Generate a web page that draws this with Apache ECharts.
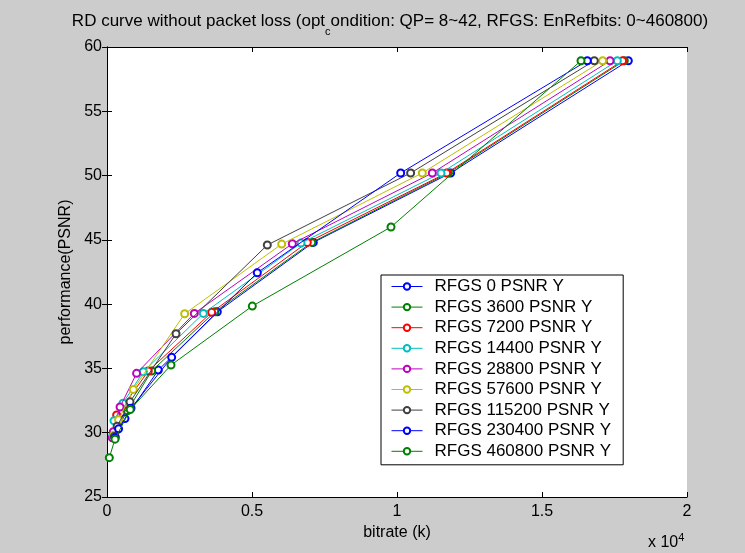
<!DOCTYPE html>
<html>
<head>
<meta charset="utf-8">
<script src="https://cdn.jsdelivr.net/npm/echarts@6/dist/echarts.min.js"></script>
<style>
html,body{margin:0;padding:0;background:#cccccc;}
#c{width:745px;height:553px;}
</style>
</head>
<body>
<div id="c"></div>
<script>
// Series names
const seriesNames = ['RFGS 0 PSNR Y','RFGS 3600 PSNR Y','RFGS 7200 PSNR Y','RFGS 14400 PSNR Y','RFGS 28800 PSNR Y','RFGS 57600 PSNR Y','RFGS 115200 PSNR Y','RFGS 230400 PSNR Y','RFGS 460800 PSNR Y'];
const seriesColors = ['#0000ff','#008000','#ff0000','#00bfbf','#bf00bf','#bfbf00','#404040','#0000ff','#008000'];
// [bitrate (k), PSNR]
const rfgs0      = [[17976,58.93],[11850,50.2],[7114,44.8],[3804,39.4],[1770,34.87],[620,31.1],[280,29.7]];
const rfgs3600   = [[17838,58.93],[11770,50.2],[7060,44.8],[3724,39.4],[1540,34.8],[700,31.7],[330,30.2],[230,29.6]];
const rfgs7200   = [[17780,58.93],[11712,50.2],[6907,44.8],[3609,39.36],[1425,34.8],[600,32.2],[333,31.38],[240,29.9]];
const rfgs14400  = [[17597,58.93],[11517,50.2],[6690,44.75],[3322,39.28],[1253,34.74],[550,32.3],[241,30.93],[200,29.8]];
const rfgs28800  = [[17345,58.93],[11218,50.2],[6390,44.7],[3011,39.28],[1020,34.62],[450,32.0],[218,30.08],[180,29.6]];
const rfgs57600  = [[17090,58.93],[10873,50.2],[6024,44.67],[2678,39.25],[908,33.37],[400,31.0],[230,29.8]];
const rfgs115200 = [[16803,58.93],[10470,50.2],[5528,44.6],[2380,37.7],[793,32.4],[350,30.5],[250,29.7]];
const rfgs230400 = [[16562,58.93],[10127,50.2],[5183,42.44],[2230,35.86],[828,31.9],[400,30.3],[280,29.6]];
const rfgs460800 = [[16345,58.93],[9793,46.0],[5011,39.85],[2207,35.26],[800,31.8],[276,29.5],[80,28.06]];
const allData = [rfgs0,rfgs3600,rfgs7200,rfgs14400,rfgs28800,rfgs57600,rfgs115200,rfgs230400,rfgs460800];
const xTickLabels = {0:'0',5000:'0.5',10000:'1',15000:'1.5',20000:'2'};

const FONT = 'Liberation Sans, Arial, sans-serif';
const chart = echarts.init(document.getElementById('c'));
const grid = {left:107, top:47, width:580, height:450};

const series = allData.map((d,i)=>({
  name: seriesNames[i],
  type: 'line',
  data: d,
  symbol: 'emptyCircle',
  symbolSize: 7,
  showSymbol: true,
  lineStyle: {width: 1, color: seriesColors[i]},
  itemStyle: {color: seriesColors[i], borderColor: seriesColors[i], borderWidth: 1},
  emphasis: {disabled: true},
  animation: false,
  z: 2 + i
}));

chart.setOption({
  backgroundColor: '#cccccc',
  animation: false,
  title: {
    text: 'RD curve without packet loss (opt{s|c}ondition: QP= 8~42, RFGS: EnRefbits: 0~460800)',
    left: 390, top: 6, textAlign: 'center', padding: 0,
    textStyle: {
      fontFamily: FONT, fontSize: 17, fontWeight: 'normal', color: '#000',
      rich: {s: {fontFamily: FONT, fontSize: 11, color: '#000', verticalAlign: 'bottom', padding: [20,0,0,0]}}
    }
  },
  grid: grid,
  legend: {
    orient: 'vertical',
    left: 381, top: 275,
    backgroundColor: '#ffffff',
    borderColor: '#000000', borderWidth: 1,
    padding: [3, 12, 5, 10],
    itemWidth: 31, itemHeight: 8, itemGap: 3.6,
    itemStyle: {borderWidth: 1},
    lineStyle: {width: 1},
    textStyle: {fontFamily: FONT, fontSize: 17, lineHeight: 16, color: '#000', padding: [0,0,0,7]},
    data: seriesNames
  },
  xAxis: [{
    type: 'value', min: 0, max: 20000, interval: 5000,
    name: 'bitrate (k)', nameLocation: 'middle', nameGap: 25,
    nameTextStyle: {fontFamily: FONT, fontSize: 16, color: '#000'},
    axisLine: {show: true, lineStyle: {color: '#000', width: 1}},
    axisTick: {show: true, inside: true, length: 5, lineStyle: {color: '#000'}},
    axisLabel: {fontFamily: FONT, fontSize: 16, color: '#000', margin: 7,
      formatter: v => xTickLabels[v] !== undefined ? xTickLabels[v] : ''},
    splitLine: {show: false}
  },{
    type: 'value', min: 0, max: 20000, interval: 5000, position: 'top',
    axisLine: {show: true, lineStyle: {color: '#000', width: 1}},
    axisTick: {show: true, inside: true, length: 5, lineStyle: {color: '#000'}},
    axisLabel: {show: false}, splitLine: {show: false}
  }],
  yAxis: [{
    type: 'value', min: 25, max: 60, interval: 5,
    name: 'performance(PSNR)', nameLocation: 'middle', nameGap: 32, nameRotate: 90,
    nameTextStyle: {fontFamily: FONT, fontSize: 16, color: '#000'},
    axisLine: {show: true, lineStyle: {color: '#000', width: 1}},
    axisTick: {show: true, inside: true, length: 5, lineStyle: {color: '#000'}},
    axisLabel: {fontFamily: FONT, fontSize: 16, color: '#000', margin: 5},
    splitLine: {show: false}
  },{
    type: 'value', min: 25, max: 60, interval: 5, position: 'right',
    axisLine: {show: true, lineStyle: {color: '#000', width: 1}},
    axisTick: {show: true, inside: true, length: 5, lineStyle: {color: '#000'}},
    axisLabel: {show: false}, splitLine: {show: false}
  }],
  graphic: [
    {type: 'rect', z: -1, shape: {x: grid.left, y: grid.top, width: grid.width, height: grid.height},
     style: {fill: '#ffffff'}, silent: true},
    {type: 'text', left: 648, top: 532,
     style: {text: 'x 10{s|4}', font: '16px ' + FONT, fill: '#000',
       rich: {s: {fontSize: 11, fontFamily: FONT, fill: '#000', verticalAlign: 'top', padding: [0,0,10,0]}}}}
  ],
  series: series
});
</script>
</body>
</html>
